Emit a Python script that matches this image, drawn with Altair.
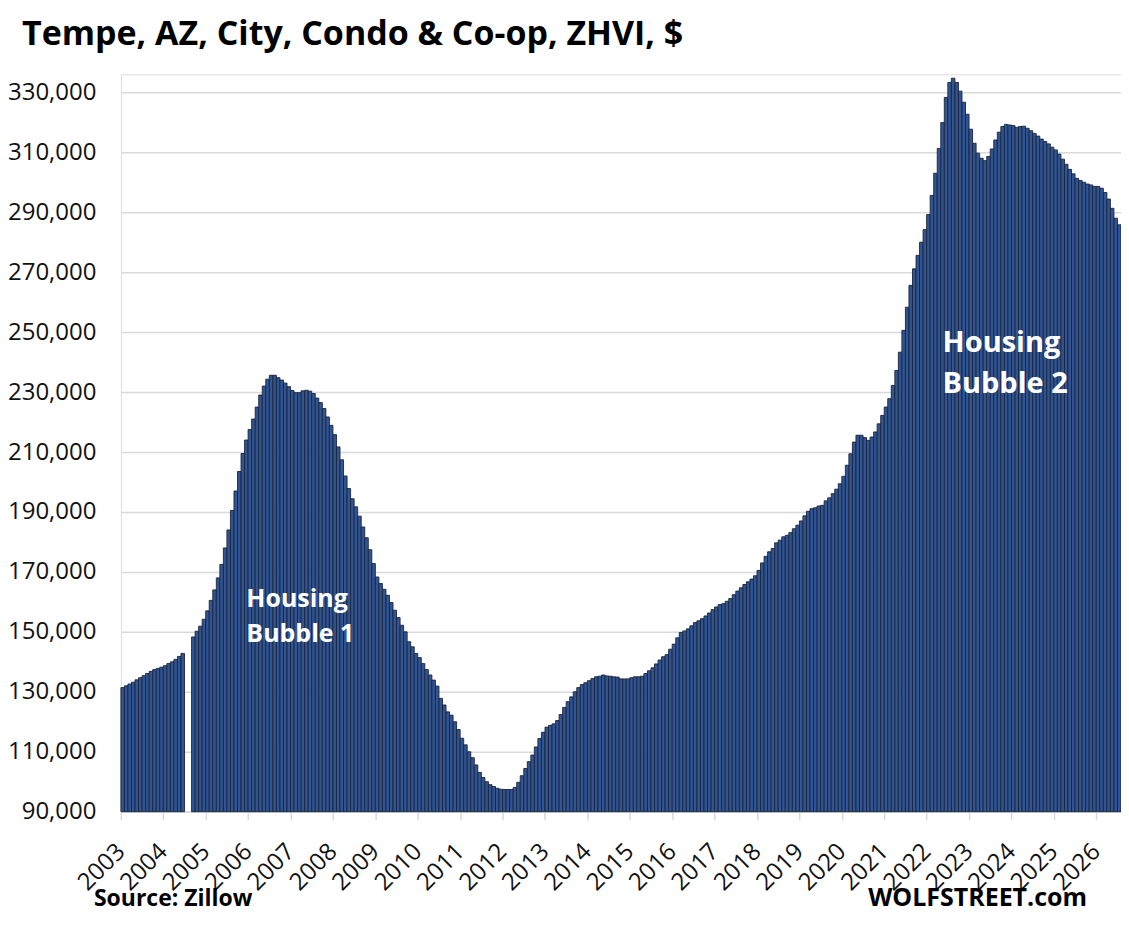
import altair as alt
import pandas as pd

# Monthly ZHVI, Tempe AZ condo & co-op, Jan 2003 .. Jul 2026 (None = missing month)
first_year = 2003
zhvi = [
    131400, 132000, 132600, 133200, 134000, 134700, 135400, 136100, 136800, 137400, 137800, 138200,
    138700, 139400, 140000, 140800, 141800, 142800, None, None, 148300, 150200, 151900, 154200,
    157000, 160500, 164000, 168000, 172500, 178000, 184000, 190500, 197000, 203500, 209500, 214000,
    217500, 221000, 225000, 229000, 232000, 234300, 235600, 235600, 234800, 234000, 233000, 231800,
    230500, 229800, 229800, 230400, 230600, 230300, 229500, 228000, 226500, 224500, 221700, 218900,
    215800, 211700, 207400, 202000, 197800, 194400, 191700, 188600, 185000, 181400, 177400, 172800,
    168300, 166100, 164200, 162200, 159800, 157200, 154800, 152200, 150000, 146700, 145000, 142800,
    141400, 139400, 137400, 135600, 133900, 131900, 127800, 125600, 123300, 122200, 120000, 117400,
    114500, 112300, 110000, 108000, 105600, 103100, 101400, 100000, 99000, 98400, 97800, 97500,
    97400, 97400, 97400, 98100, 99800, 102000, 104400, 106700, 108900, 111600, 114400, 116500,
    118200, 118800, 119300, 120400, 122400, 124800, 126700, 128300, 130000, 131400, 132400, 133000,
    133700, 134400, 135000, 135200, 135600, 135300, 135200, 135000, 134900, 134300, 134300, 134300,
    134700, 135000, 135000, 135200, 136100, 137000, 138000, 139300, 140600, 141700, 142400, 144200,
    145900, 148000, 149800, 150300, 151000, 152000, 153100, 153700, 154400, 155300, 156300, 157400,
    158300, 159100, 159400, 160200, 161100, 162400, 163600, 164700, 165800, 166700, 167600, 168700,
    170500, 173000, 175200, 176700, 177800, 179700, 180600, 181700, 182200, 183100, 184400, 185600,
    187000, 188700, 190200, 191100, 191400, 192000, 192200, 193700, 194700, 196100, 197600, 199400,
    201900, 205600, 209400, 213300, 215600, 215600, 214800, 213900, 215000, 216700, 219400, 222200,
    225000, 227800, 232200, 237200, 243300, 250600, 258300, 265600, 271100, 275600, 280000, 284200,
    289200, 295600, 303000, 311300, 319900, 328300, 333300, 334700, 333300, 330400, 326700, 322700,
    317700, 313000, 309700, 308000, 307200, 308600, 311100, 314100, 316700, 318600, 319300, 319100,
    318900, 318300, 318600, 318700, 318000, 317200, 316300, 315400, 314400, 313600, 312800, 311700,
    310800, 309400, 307700, 306000, 304300, 302800, 301300, 300600, 300000, 299400, 299100, 298600,
    298600, 298000, 296600, 294400, 291300, 288000, 285800,
]
year_labels = list(range(2003, 2027))
y_ticks = [90000, 110000, 130000, 150000, 170000, 190000, 210000, 230000, 250000, 270000, 290000, 310000, 330000]

anno_text = ["Housing", "Bubble 1", "Housing", "Bubble 2"]
anno_month = [35.5, 35.5, 232.5, 232.5]
anno_value = [158200, 146500, 243300, 229700]
anno_group = ["b1", "b1", "b2", "b2"]

n = len(zhvi)
df = pd.DataFrame({"m": list(range(n)), "value": zhvi})
df["m_end"] = df["m"] + 1
df = df.dropna()

anno = pd.DataFrame({"m": anno_month, "value": anno_value, "text": anno_text, "g": anno_group})

x_scale = alt.Scale(domain=[0, n], nice=False, zero=False)
y_scale = alt.Scale(domain=[90000, 336000], nice=False, zero=False)

FONT = "Open Sans"

bars = alt.Chart(df).mark_bar(
    fill="#2f5597", stroke="#1c2436", strokeWidth=0.9
).encode(
    x=alt.X("m:Q", scale=x_scale, axis=alt.Axis(
        values=[(y - first_year) * 12 for y in year_labels],
        labelExpr=f"toString({first_year} + datum.value / 12)",
        labelAngle=315, labelAlign="right", labelBaseline="middle",
        labelFont=FONT, labelFontSize=24, labelColor="#111111", labelPadding=28,
        labelOverlap=False, labelFlush=False,
        domainColor="#d9d9d9", domainWidth=1.5,
        tickColor="#d9d9d9", tickWidth=1.5, tickSize=8,
        grid=False, title=None,
    )),
    x2="m_end:Q",
    y=alt.Y("value:Q", scale=y_scale, axis=alt.Axis(
        values=y_ticks, format=",.0f",
        labelFont=FONT, labelFontSize=24, labelColor="#111111", labelPadding=25,
        domain=False, ticks=False,
        grid=True, gridColor="#d9d9d9", gridWidth=1.5,
        title=None,
    )),
    y2=alt.datum(90000),
)

anno1 = alt.Chart(anno[anno.g == "b1"]).mark_text(
    align="left", baseline="alphabetic", font=FONT, fontWeight="bold", fontSize=25, color="white"
).encode(x=alt.X("m:Q", scale=x_scale), y=alt.Y("value:Q", scale=y_scale), text="text:N")

anno2 = alt.Chart(anno[anno.g == "b2"]).mark_text(
    align="left", baseline="alphabetic", font=FONT, fontWeight="bold", fontSize=29, color="white"
).encode(x=alt.X("m:Q", scale=x_scale), y=alt.Y("value:Q", scale=y_scale), text="text:N")

source = alt.Chart(pd.DataFrame({"t": ["Source: Zillow"]})).mark_text(
    align="left", baseline="alphabetic", font=FONT, fontWeight="bold", fontSize=23, color="black"
).encode(x=alt.value(-27), y=alt.value(832), text="t:N")

brand = alt.Chart(pd.DataFrame({"t": ["WOLFSTREET.com"]})).mark_text(
    align="right", baseline="alphabetic", font=FONT, fontWeight="bold", fontSize=25, color="black"
).encode(x=alt.value(967), y=alt.value(832), text="t:N")

chart = alt.layer(bars, anno1, anno2, source, brand).properties(
    width=1001, height=738,
    title=alt.TitleParams(
        "Tempe, AZ, City, Condo & Co-op, ZHVI, $",
        anchor="start", frame="group", dx=-99, offset=-5, baseline="alphabetic",
        font=FONT, fontSize=34, fontWeight="bold", color="black",
    ),
    autosize=alt.AutoSizeParams(type="none"),
    padding={"left": 113, "top": 66, "right": 0, "bottom": 101},
).configure_view(stroke=None).configure(background="white")

chart.save("out.html", embed_options={"renderer": "svg", "actions": False})
